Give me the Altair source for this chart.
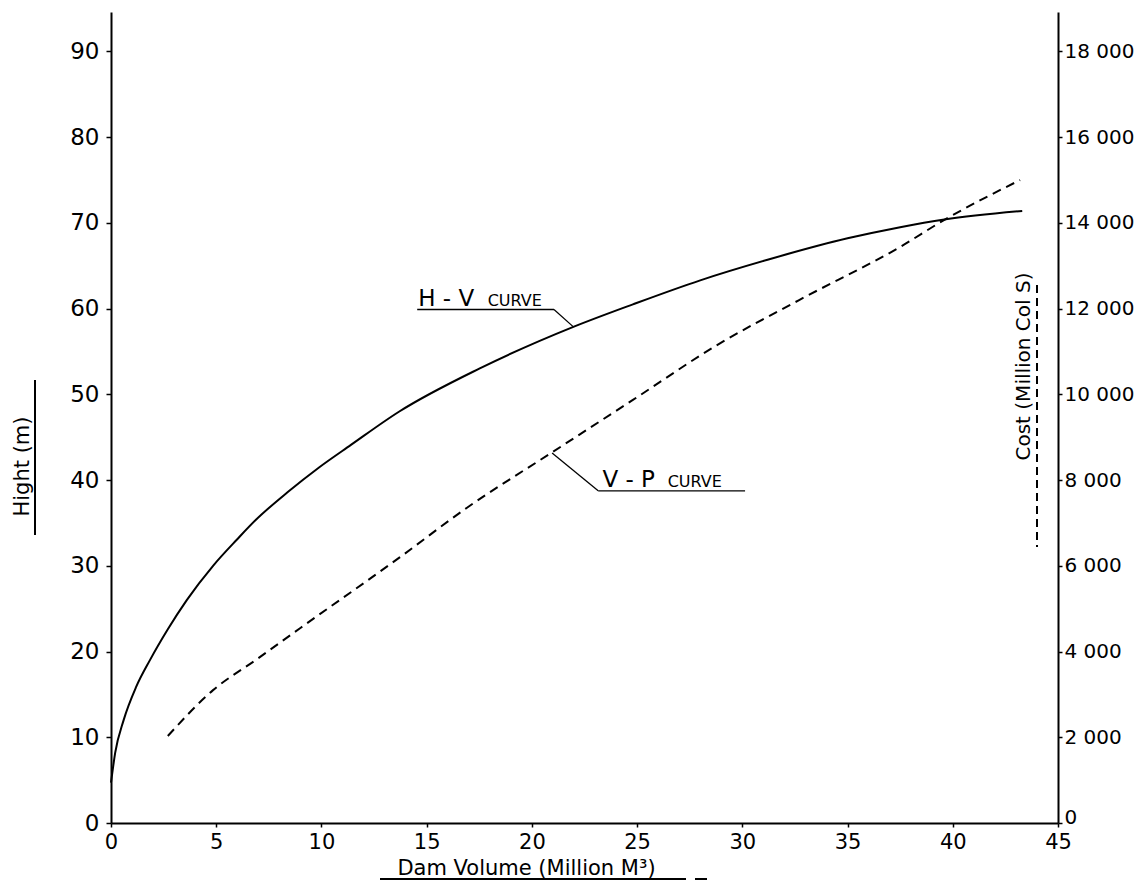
import altair as alt
import pandas as pd

# H-V curve (height in m vs dam volume in million m3)
hv_x = [0, 0.2, 0.6, 1.2, 1.85, 2.7, 3.6, 4.85, 6.0, 6.9, 8.4, 9.9, 11.4, 13.7,
        17.5, 22.0, 24.8, 28.0, 31.2, 35.0, 37.5, 39.6, 43.3]
hv_y = [4.7, 8.2, 12.0, 15.9, 19.0, 22.6, 26.0, 30.0, 33.1, 35.4, 38.6, 41.5,
        44.1, 48.0, 53.0, 57.9, 60.5, 63.3, 65.7, 68.2, 69.5, 70.4, 71.4]

# V-P curve (cost in million Col $ vs dam volume)
vp_x = [2.7, 4.85, 6.9, 9.0, 13.7, 16.9, 21.0, 24.8, 28.8, 32.7, 37.5, 39.6, 43.2]
vp_cost = [2030, 3100, 3810, 4550, 6190, 7350, 8660, 9870, 11150, 12200, 13440, 14070, 15000]

# annotation labels
lab_text = ["H - V", "CURVE", "V - P", "CURVE"]
lab_x = [14.6, 17.9, 23.35, 26.45]
lab_y = [60.35, 60.35, 39.2, 39.2]
lab_size = [23, 16, 23, 16]

# leader lines / underlines of labels (data coords)
ld_x = [14.55, 21.05, 23.15, 23.15]
ld_y = [59.9, 59.9, 38.75, 38.75]
ld_x2 = [21.05, 21.96, 30.13, 20.96]
ld_y2 = [59.9, 57.9, 38.75, 43.17]

x_ticks = [0, 5, 10, 15, 20, 25, 30, 35, 40, 45]
h_ticks = [0, 10, 20, 30, 40, 50, 60, 70, 80, 90]
c_ticks = [0, 2000, 4000, 6000, 8000, 10000, 12000, 14000, 16000, 18000]

FONT = "DejaVu Sans"
W, H = 947, 811

hv_df = pd.DataFrame({"x": hv_x, "y": hv_y})
vp_df = pd.DataFrame({"x": vp_x, "c": vp_cost})
lab_df = pd.DataFrame({"t": lab_text, "x": lab_x, "y": lab_y, "s": lab_size})
ld_df = pd.DataFrame({"x": ld_x, "y": ld_y, "x2": ld_x2, "y2": ld_y2})

xscale = alt.Scale(domain=[0, 45], nice=False, zero=False)
hscale = alt.Scale(domain=[0, 94.6], nice=False, zero=False)
cscale = alt.Scale(domain=[0, 18920], nice=False, zero=False)

x_axis = alt.Axis(values=x_ticks, title="Dam Volume (Million M³)", grid=False,
                  labelFontSize=21, labelPadding=4, tickSize=4, tickWidth=1.5,
                  labelFlush=False,
                  titleFontSize=21, titleFontWeight="normal",
                  titleX=415, titleY=45, titleAlign="center", titleBaseline="middle",
                  domainWidth=2)

h_axis = alt.Axis(values=h_ticks, title="Hight (m)", grid=False, orient="left",
                  labelFontSize=23, labelPadding=7, tickSize=5, tickWidth=1.5,
                  labelFlush=False,
                  titleFontSize=21, titleFontWeight="normal", titleAngle=270,
                  titleX=-89, titleY=454, titleAlign="center", titleBaseline="middle",
                  domainWidth=2)

hv = alt.Chart(hv_df).mark_line(color="black", strokeWidth=2, interpolate="monotone").encode(
    x=alt.X("x:Q", scale=xscale, axis=x_axis),
    y=alt.Y("y:Q", scale=hscale, axis=h_axis),
)

labels = alt.Chart(lab_df).mark_text(align="left", baseline="alphabetic", font=FONT, color="black").encode(
    x=alt.X("x:Q", scale=xscale, axis=x_axis),
    y=alt.Y("y:Q", scale=hscale, axis=h_axis),
    text="t:N",
    size=alt.Size("s:Q", scale=None, legend=None),
)

leaders = alt.Chart(ld_df).mark_rule(color="black", strokeWidth=1.3).encode(
    x=alt.X("x:Q", scale=xscale, axis=x_axis),
    y=alt.Y("y:Q", scale=hscale, axis=h_axis),
    x2="x2:Q",
    y2="y2:Q",
)

left_ul = alt.Chart(hv_df).mark_rule(color="black", strokeWidth=2).encode(
    x=alt.value(-76), y=alt.value(368), y2=alt.value(523))
bottom_ul = alt.Chart(hv_df).mark_rule(color="black", strokeWidth=1.5).encode(
    x=alt.value(269), x2=alt.value(575), y=alt.value(867))
bottom_ul2 = alt.Chart(hv_df).mark_rule(color="black", strokeWidth=1.5).encode(
    x=alt.value(584), x2=alt.value(596), y=alt.value(867))
right_ul = alt.Chart(hv_df).mark_rule(color="black", strokeWidth=2, strokeDash=[8, 5]).encode(
    x=alt.value(926), y=alt.value(273), y2=alt.value(535))

left_layer = alt.layer(hv, labels, leaders, left_ul, bottom_ul, bottom_ul2, right_ul)

vp = alt.Chart(vp_df).mark_line(color="black", strokeWidth=2, strokeDash=[9, 6],
                                interpolate="monotone").encode(
    x=alt.X("x:Q", scale=xscale, axis=x_axis),
    y=alt.Y("c:Q", scale=cscale,
            axis=alt.Axis(values=c_ticks, title="Cost (Million Col S)", grid=False, orient="right",
                          labelExpr="replace(format(datum.value, ','), ',', ' ')",
                          labelFontSize=20, labelPadding=2, tickSize=4, tickWidth=1.5,
                          labelFlush=False,
                          labelOffset={"condition": {"test": "datum.value === 0", "value": -6}, "value": 0},
                          titleFontSize=20, titleFontWeight="normal", titleAngle=270,
                          titleX=-35, titleY=354, titleAlign="center", titleBaseline="middle",
                          domainWidth=2)),
)

chart = alt.layer(left_layer, vp).resolve_scale(y="independent").properties(
    width=W, height=H,
    autosize=alt.AutoSizeParams(type="none"),
    padding={"left": 111, "top": 12, "right": 83, "bottom": 70},
    background="white",
).configure_view(stroke=None).configure_axis(
    labelFont=FONT, titleFont=FONT, labelColor="black", titleColor="black",
    domainColor="black", tickColor="black",
)

chart.save("out.html", embed_options={"renderer": "svg", "actions": False})
